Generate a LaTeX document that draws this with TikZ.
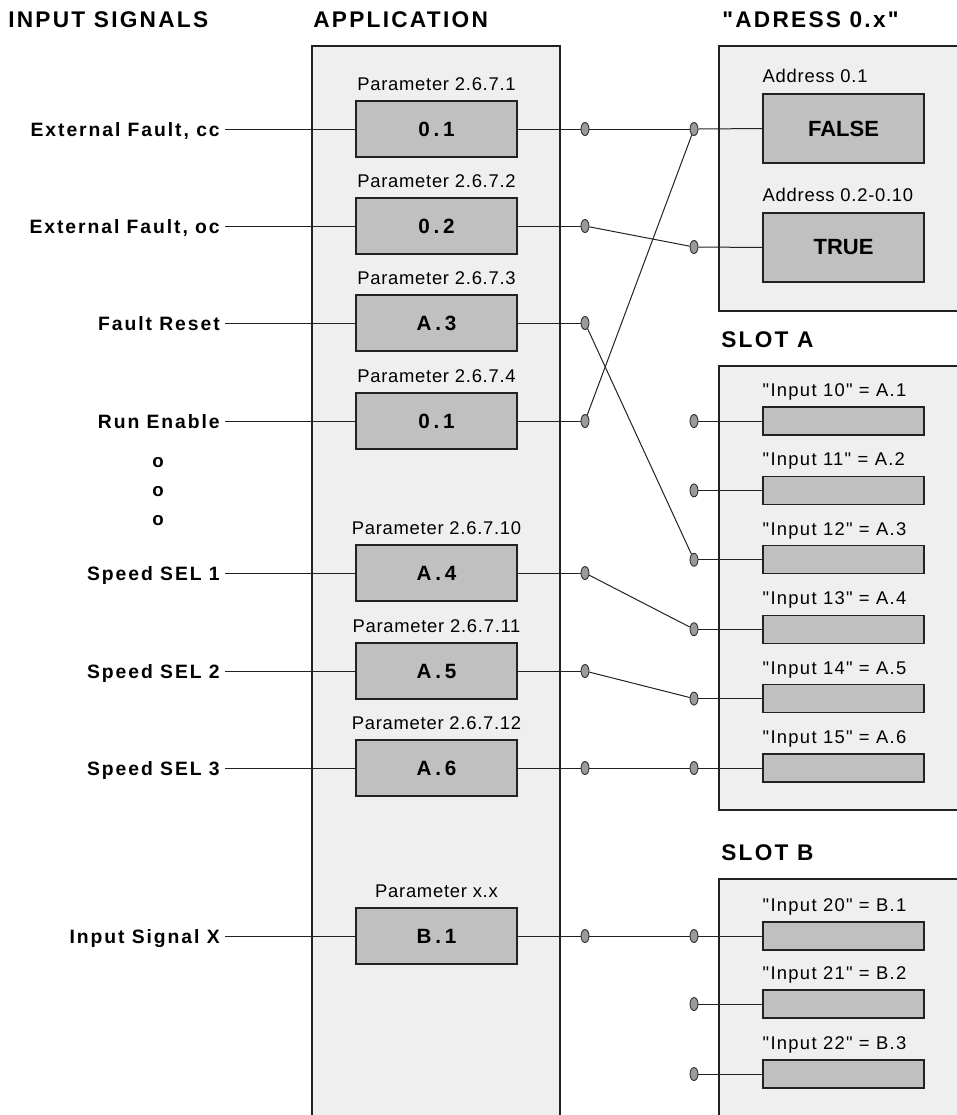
\documentclass[tikz,border=0pt]{standalone}
\usepackage{fontspec}
\setmainfont{Liberation Sans}
\newfontfamily\spacedsans[LetterSpace=10]{Liberation Sans}
\newfontfamily\valsans[LetterSpace=18]{Liberation Sans}
\newfontfamily\lightsans[LetterSpace=4]{Liberation Sans}
\newfontfamily\midsans[LetterSpace=7]{Liberation Sans}
\usetikzlibrary{shapes.geometric}
\definecolor{panelc}{HTML}{EFEFEF}
\definecolor{boxc}{HTML}{C0C0C0}
\definecolor{pinc}{HTML}{9A9A9A}
\definecolor{edgec}{HTML}{222222}
\begin{document}
\begin{tikzpicture}[x=0.75pt,y=-0.75pt,
  panel/.style={fill=panelc},
  paneledge/.style={draw=edgec,line width=0.9pt},
  header/.style={anchor=base west,inner sep=0pt,font=\spacedsans\bfseries\fontsize{17}{20}\selectfont},
  sig/.style={anchor=base east,inner sep=0pt,inner xsep=3.75pt,font=\spacedsans\bfseries\fontsize{14.5}{17}\selectfont},
  dotmark/.style={inner sep=0pt,font=\bfseries\fontsize{14}{16}\selectfont},
  pbox/.style={draw=edgec,fill=boxc,line width=0.8pt,minimum width=120.75pt,minimum height=42pt,inner sep=0pt,font=\valsans\bfseries\fontsize{15.5}{18}\selectfont},
  abox/.style={draw=edgec,fill=boxc,line width=0.8pt,minimum width=120.75pt,minimum height=51.75pt,inner sep=0pt,font=\bfseries\fontsize{16.5}{19}\selectfont},
  sbox/.style={draw=edgec,fill=boxc,line width=0.8pt,minimum width=120.75pt,minimum height=21pt,inner sep=0pt},
  plabel/.style={anchor=base,inner sep=0pt,font=\lightsans\fontsize{13.8}{16}\selectfont},
  ilabel/.style={anchor=base west,inner sep=0pt,font=\midsans\fontsize{13.8}{16}\selectfont},
  alabel/.style={anchor=base west,inner sep=0pt,font=\lightsans\fontsize{13.8}{16}\selectfont},
  pin/.style={ellipse,draw=edgec,fill=pinc,line width=0.6pt,minimum width=6pt,minimum height=9.75pt,inner sep=0pt},
  wire/.style={draw=edgec,line width=0.75pt}]
\useasboundingbox (0,0) rectangle (957,1115);

% panels
\fill[panel] (312,46) rectangle (560,1116);
\draw[paneledge] (312,1116) -- (312,46) -- (560,46) -- (560,1116);
\fill[panel] (719,46) rectangle (958,311);
\draw[paneledge] (958,46) -- (719,46) -- (719,311) -- (958,311);
\fill[panel] (719,366) rectangle (958,810);
\draw[paneledge] (958,366) -- (719,366) -- (719,810) -- (958,810);
\fill[panel] (719,879) rectangle (958,1116);
\draw[paneledge] (958,879) -- (719,879) -- (719,1116);

% headers
\node[header] (h1) at (8,27) {INPUT SIGNALS};
\node[header] (h2) at (313,27) {APPLICATION};
\node[header] (h3) at (722,27) {"ADRESS 0.x"};
\node[header] (h4) at (721,347) {SLOT A};
\node[header] (h5) at (721,860) {SLOT B};

% application rows
\foreach \n/\y/\lab/\pl/\val in {
  1/129/{External Fault, cc}/{Parameter 2.6.7.1}/{0.1},
  2/226/{External Fault, oc}/{Parameter 2.6.7.2}/{0.2},
  3/323/{Fault Reset}/{Parameter 2.6.7.3}/{A.3},
  4/421/{Run Enable}/{Parameter 2.6.7.4}/{0.1},
  5/573/{Speed SEL 1}/{Parameter 2.6.7.10}/{A.4},
  6/671/{Speed SEL 2}/{Parameter 2.6.7.11}/{A.5},
  7/768/{Speed SEL 3}/{Parameter 2.6.7.12}/{A.6},
  8/936/{Input Signal X}/{Parameter x.x}/{B.1}}{
  \node[sig] (s\n) at (225,\y+7) {\lab};
  \node[pbox] (p\n) at (436.5,\y) {\val};
  \node[plabel] (pl\n) at ([yshift=7.5pt]p\n.north) {\pl};
  \node[pin] (a\n) at (585,\y) {};
  \draw[wire] (s\n.east |- p\n.west) -- (p\n.west);
  \draw[wire] (p\n.east) -- (a\n.west);
}

% dots
\node[dotmark] (o1) at (158,463) {o};
\node[dotmark] (o2) at (158,492) {o};
\node[dotmark] (o3) at (158,521) {o};

% address boxes
\node[abox] (fb) at (843.5,128.5) {FALSE};
\node[alabel] (fl) at ([yshift=8.25pt]fb.north west) {Address 0.1};
\node[abox] (tb) at (843.5,247.5) {TRUE};
\node[alabel] (tl) at ([yshift=8.25pt]tb.north west) {Address 0.2-0.10};
\node[pin] (bF) at (694,129) {};
\node[pin] (bT) at (694,247) {};
\draw[wire] (bF.east) -- (fb.west);
\draw[wire] (bT.east) -- (tb.west);

% slot A
\foreach \k/\y/\txt in {1/421/{"Input 10" = A.1},2/490.4/{"Input 11" = A.2},3/559.8/{"Input 12" = A.3},4/629.2/{"Input 13" = A.4},5/698.6/{"Input 14" = A.5},6/768/{"Input 15" = A.6}}{
  \node[sbox] (A\k) at (843.5,\y) {};
  \node[ilabel] (Al\k) at ([yshift=7.5pt]A\k.north west) {\txt};
  \node[pin] (bA\k) at (694,\y) {};
  \draw[wire] (bA\k.east) -- (A\k.west);
}

% slot B
\foreach \k/\y/\txt in {1/936/{"Input 20" = B.1},2/1004/{"Input 21" = B.2},3/1074/{"Input 22" = B.3}}{
  \node[sbox] (B\k) at (843.5,\y) {};
  \node[ilabel] (Bl\k) at ([yshift=7.5pt]B\k.north west) {\txt};
  \node[pin] (bB\k) at (694,\y) {};
  \draw[wire] (bB\k.east) -- (B\k.west);
}

% cross connections
\draw[wire] (a1) -- (bF);
\draw[wire] (a2) -- (bT);
\draw[wire] (a3) -- (bA3);
\draw[wire] (a4) -- (bF);
\draw[wire] (a5) -- (bA4);
\draw[wire] (a6) -- (bA5);
\draw[wire] (a7) -- (bA6);
\draw[wire] (a8) -- (bB1);
\end{tikzpicture}
\end{document}
